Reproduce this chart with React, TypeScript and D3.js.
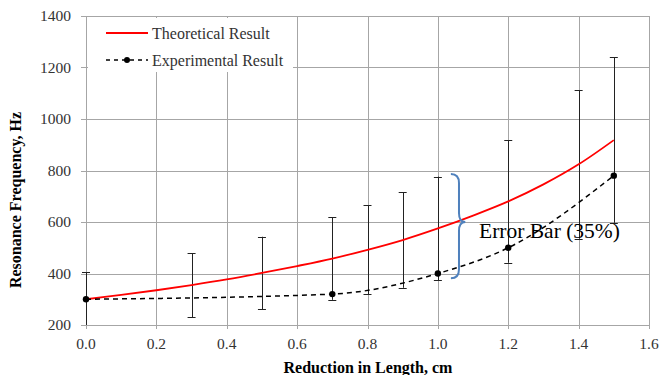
import React, { useEffect, useRef } from "react";
import * as d3 from "d3";

const theoX = [0, 0.1, 0.2, 0.3, 0.4, 0.5, 0.6, 0.7, 0.8, 0.9, 1.0, 1.1, 1.2, 1.3, 1.4, 1.5];
const theoY = [300, 317, 335, 355, 377, 402, 429, 458, 492, 530, 575, 625, 680, 746, 824, 918];

// measured points
const expX = [0, 0.7, 1.0, 1.2, 1.5];
const expY = [300, 320, 400, 500, 780];

// error bars (35%) drawn around the theoretical values
const errX = [0, 0.3, 0.5, 0.7, 0.8, 0.9, 1.0, 1.2, 1.4, 1.5];
const errPct = 0.35;

const xTicks = [0, 0.2, 0.4, 0.6, 0.8, 1.0, 1.2, 1.4, 1.6];
const yTicks = [200, 400, 600, 800, 1000, 1200, 1400];

// brace annotation, in data units
const braceTop = 786;
const braceMid = 600;
const braceBottom = 382;
const braceX = [1.037, 1.06, 1.078];
const noteX = 1.117;
const noteY = 538;

const W = 660;
const H = 375;
const FONT = "'Liberation Serif', 'Times New Roman', serif";

export default function App() {
    const ref = useRef<SVGSVGElement>(null);

    useEffect(() => {
        const svg = d3.select(ref.current);
        svg.selectAll("*").remove();

        const x = d3.scaleLinear().domain([0, 1.6]).range([86, 649]);
        const y = d3.scaleLinear().domain([200, 1400]).range([325, 16]);

        svg.append("rect").attr("width", W).attr("height", H).attr("fill", "white");

        svg.append("defs")
            .append("clipPath")
            .attr("id", "plot")
            .append("rect")
            .attr("x", x(0) - 10)
            .attr("y", y(1400))
            .attr("width", x(1.6) - x(0) + 20)
            .attr("height", y(200) - y(1400));

        // grid
        const grid = svg.append("g").attr("stroke", "#a6a6a6").attr("stroke-width", 1);
        grid.selectAll("line.h")
            .data(yTicks)
            .join("line")
            .attr("x1", x(0) - 5)
            .attr("x2", x(1.6))
            .attr("y1", (d) => Math.round(y(d)) + 0.5)
            .attr("y2", (d) => Math.round(y(d)) + 0.5);
        grid.selectAll("line.v")
            .data(xTicks)
            .join("line")
            .attr("x1", (d) => Math.round(x(d)) + 0.5)
            .attr("x2", (d) => Math.round(x(d)) + 0.5)
            .attr("y1", y(1400))
            .attr("y2", y(200) + 4);

        // tick labels
        svg.append("g")
            .attr("font-family", FONT)
            .attr("font-size", 15.5)
            .attr("fill", "#333")
            .attr("text-anchor", "end")
            .selectAll("text")
            .data(yTicks)
            .join("text")
            .attr("x", 71)
            .attr("y", (d) => y(d) + 5)
            .text((d) => d);
        svg.append("g")
            .attr("font-family", FONT)
            .attr("font-size", 15.5)
            .attr("fill", "#333")
            .attr("text-anchor", "middle")
            .selectAll("text")
            .data(xTicks)
            .join("text")
            .attr("x", (d) => x(d))
            .attr("y", 349)
            .text((d) => d.toFixed(1));

        // axis titles
        svg.append("text")
            .attr("font-family", FONT)
            .attr("font-size", 16)
            .attr("font-weight", "bold")
            .attr("text-anchor", "middle")
            .attr("x", 368)
            .attr("y", 373)
            .text("Reduction in Length, cm");
        svg.append("text")
            .attr("font-family", FONT)
            .attr("font-size", 16)
            .attr("font-weight", "bold")
            .attr("text-anchor", "middle")
            .attr("transform", "translate(21,200) rotate(-90)")
            .text("Resonance Frequency, Hz");

        const plot = svg.append("g").attr("clip-path", "url(#plot)");

        // error bars
        const theoAt = (v) => theoY[theoX.findIndex((t) => Math.abs(t - v) < 1e-6)];
        const bars = plot.append("g")
            .attr("stroke", "#222")
            .attr("stroke-width", 1)
            .selectAll("g")
            .data(errX)
            .join("g");
        bars.append("line")
            .attr("x1", (d) => Math.round(x(d)) + 0.5)
            .attr("x2", (d) => Math.round(x(d)) + 0.5)
            .attr("y1", (d) => y(theoAt(d) * (1 + errPct)))
            .attr("y2", (d) => y(theoAt(d) * (1 - errPct)));
        bars.append("line")
            .attr("x1", (d) => x(d) - 4)
            .attr("x2", (d) => x(d) + 4)
            .attr("y1", (d) => Math.round(y(theoAt(d) * (1 + errPct))) + 0.5)
            .attr("y2", (d) => Math.round(y(theoAt(d) * (1 + errPct))) + 0.5);
        bars.append("line")
            .attr("x1", (d) => x(d) - 4)
            .attr("x2", (d) => x(d) + 4)
            .attr("y1", (d) => Math.round(y(theoAt(d) * (1 - errPct))) + 0.5)
            .attr("y2", (d) => Math.round(y(theoAt(d) * (1 - errPct))) + 0.5);

        // theoretical
        const line = d3.line().curve(d3.curveCatmullRom.alpha(0.5));
        plot.append("path")
            .attr("fill", "none")
            .attr("stroke", "#ff0000")
            .attr("stroke-width", 1.8)
            .attr("d", line(theoX.map((v, i) => [x(v), y(theoY[i])])));

        // experimental
        const expLine = d3.line().curve(d3.curveMonotoneX);
        plot.append("path")
            .attr("fill", "none")
            .attr("stroke", "#000")
            .attr("stroke-width", 1.5)
            .attr("stroke-dasharray", "5,4")
            .attr("d", expLine(expX.map((v, i) => [x(v), y(expY[i])])));
        plot.append("g")
            .selectAll("circle")
            .data(expX)
            .join("circle")
            .attr("cx", (d) => x(d))
            .attr("cy", (d, i) => y(expY[i]))
            .attr("r", 3.2)
            .attr("fill", "#000");

        // brace + note
        const bx0 = x(braceX[0]);
        const bx1 = x(braceX[1]);
        const bx2 = x(braceX[2]);
        const yt = y(braceTop);
        const ym = y(braceMid);
        const yb = y(braceBottom);
        const r = 9;
        svg.append("path")
            .attr("fill", "none")
            .attr("stroke", "#4f81bd")
            .attr("stroke-width", 2)
            .attr(
                "d",
                `M${bx0},${yt} Q${bx1},${yt} ${bx1},${yt + r} L${bx1},${ym - r} Q${bx1},${ym} ${bx2},${ym}` +
                    ` Q${bx1},${ym} ${bx1},${ym + r} L${bx1},${yb - r} Q${bx1},${yb} ${bx0},${yb}`
            );
        svg.append("text")
            .attr("font-family", FONT)
            .attr("font-size", 21.5)
            .attr("fill", "#000")
            .attr("x", x(noteX))
            .attr("y", y(noteY))
            .text("Error Bar (35%)");

        // legend
        const lg = svg.append("g");
        lg.append("rect")
            .attr("x", 88)
            .attr("y", 18)
            .attr("width", 205)
            .attr("height", 54)
            .attr("fill", "white");
        lg.append("line")
            .attr("x1", 106)
            .attr("x2", 148)
            .attr("y1", 33)
            .attr("y2", 33)
            .attr("stroke", "#ff0000")
            .attr("stroke-width", 1.8);
        lg.append("line")
            .attr("x1", 106)
            .attr("x2", 148)
            .attr("y1", 60)
            .attr("y2", 60)
            .attr("stroke", "#000")
            .attr("stroke-width", 1.5)
            .attr("stroke-dasharray", "4,4");
        lg.append("circle").attr("cx", 127).attr("cy", 60).attr("r", 3).attr("fill", "#000");
        lg.selectAll("text")
            .data(["Theoretical Result", "Experimental Result"])
            .join("text")
            .attr("font-family", FONT)
            .attr("font-size", 16)
            .attr("fill", "#333")
            .attr("x", 152)
            .attr("y", (d, i) => 38.5 + i * 27)
            .text((d) => d);
    }, []);

    return (
        <svg
            ref={ref}
            width={W}
            height={H}
            style={{ position: "absolute", left: 0, top: 0, display: "block" }}
        />
    );
}
